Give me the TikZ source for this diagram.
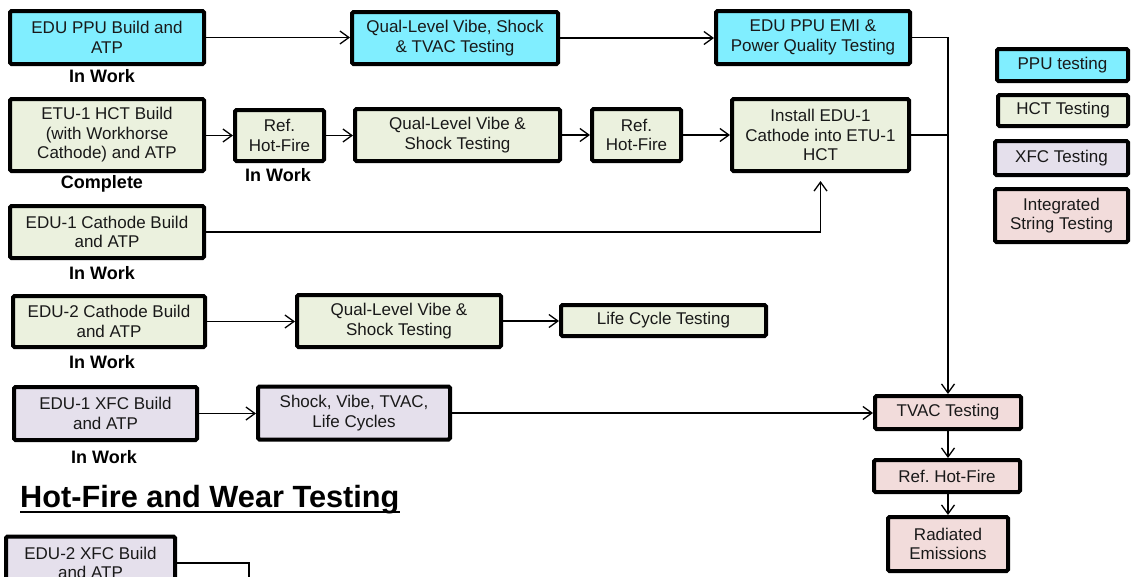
\documentclass[tikz,border=0pt]{standalone}
\usepackage{fontspec}
\setmainfont{Liberation Sans}
\usetikzlibrary{arrows.meta}
\definecolor{ppuc}{RGB}{128,238,255}
\definecolor{hctc}{RGB}{235,241,222}
\definecolor{xfcc}{RGB}{229,224,236}
\definecolor{istc}{RGB}{242,220,219}
\definecolor{txt}{RGB}{25,25,25}
\frenchspacing
\begin{document}
\begin{tikzpicture}[x=1pt,y=-1pt,
  box/.style={draw=black, line width=4pt, rounded corners=1.5pt, inner sep=0pt, align=center,
    font=\fontsize{17}{19.5}\selectfont, text=txt},
  ppu/.style={box, fill=ppuc},
  hct/.style={box, fill=hctc},
  xfc/.style={box, fill=xfcc},
  ist/.style={box, fill=istc},
  status/.style={font=\bfseries\fontsize{18}{21}\selectfont, inner sep=0pt},
  conn/.style={line width=1.3pt, -{Straight Barb[length=9pt,width=13pt,line width=1.3pt]}},
  plain/.style={line width=1.3pt}
]
\useasboundingbox (0,0) rectangle (1131,576);

% PPU row
\node[ppu, minimum width=194pt, minimum height=53pt] (ppu1) at (107,37.5) {EDU PPU Build and\\ATP};
\node[ppu, minimum width=206pt, minimum height=52pt] (ppu2) at (455,38) {Qual-Level Vibe, Shock\\\& TVAC Testing};
\node[ppu, minimum width=194pt, minimum height=53pt] (ppu3) at (813,37.5) {EDU PPU EMI \&\\Power Quality Testing};
\node[status] (s1) at (102,76) {In Work};

% HCT row
\node[hct, minimum width=194pt, minimum height=72pt] (etu) at (107,135) {ETU-1 HCT Build\\(with Workhorse\\Cathode) and ATP};
\node[hct, minimum width=89pt, minimum height=51pt] (rhf1) at (279.5,135.5) {Ref.\\Hot-Fire};
\node[hct, minimum width=205pt, minimum height=52pt] (qual1) at (457.5,135) {Qual-Level Vibe \&\\Shock Testing};
\node[hct, minimum width=89pt, minimum height=52pt] (rhf2) at (636.5,135) {Ref.\\Hot-Fire};
\node[hct, minimum width=177pt, minimum height=72pt] (install) at (820.5,135) {Install EDU-1\\Cathode into ETU-1\\HCT};
\node[status] (s2) at (102,184) {Complete};
\node[status] (s3) at (278,175) {In Work};

\node[hct, minimum width=194pt, minimum height=52pt] (edu1c) at (107,232) {EDU-1 Cathode Build\\and ATP};
\node[status] (s4) at (102,273) {In Work};

\node[hct, minimum width=192pt, minimum height=51pt] (edu2c) at (109,321.5) {EDU-2 Cathode Build\\and ATP};
\node[hct, minimum width=204pt, minimum height=52pt] (qual2) at (399,321) {Qual-Level Vibe \&\\Shock Testing};
\node[hct, minimum width=205pt, minimum height=31pt] (life) at (663.5,320.5) {Life Cycle Testing};
\node[status] (s5) at (102,362) {In Work};

% XFC rows
\node[xfc, minimum width=183pt, minimum height=53pt] (xfc1) at (105.5,413.5) {EDU-1 XFC Build\\and ATP};
\node[xfc, minimum width=192pt, minimum height=53pt] (shock) at (354,413) {Shock, Vibe, TVAC,\\Life Cycles};
\node[status] (s6) at (104,457) {In Work};

\node[xfc, minimum width=169pt, minimum height=53pt] (xfc2) at (90.5,563) {EDU-2 XFC Build\\and ATP};
\coordinate (xfcend) at (249,580);

% Integrated string
\node[ist, minimum width=146pt, minimum height=33pt] (tvac) at (948,412.5) {TVAC Testing};
\node[ist, minimum width=146pt, minimum height=32pt] (rhf3) at (947,476) {Ref. Hot-Fire};
\node[ist, minimum width=120pt, minimum height=54pt] (rad) at (948,544) {Radiated\\Emissions};

% Title
\node[font=\bfseries\fontsize{30.7}{36}\selectfont, inner sep=0pt, anchor=base west] (title) at (20,507) {Hot-Fire and Wear Testing};
\draw[line width=2.6pt] ([yshift=-5pt]title.base west) -- ([yshift=-5pt]title.base east);

% Legend
\node[ppu, minimum width=131pt, minimum height=32pt] (l1) at (1062.5,65) {PPU testing};
\node[hct, minimum width=130pt, minimum height=31pt] (l2) at (1063,110.5) {HCT Testing};
\node[xfc, minimum width=133pt, minimum height=34pt] (l3) at (1061.5,158) {XFC Testing};
\node[ist, minimum width=133pt, minimum height=53pt] (l4) at (1061.5,215.5) {Integrated\\String Testing};

% Connectors
\draw[conn] (ppu1.east) -- (ppu1.east -| ppu2.west);
\draw[conn] (ppu2.east) -- (ppu2.east -| ppu3.west);
\draw[conn] (ppu3.east) -| (tvac.north);
\draw[plain] (install.east) -- (install.east -| tvac.north);

\draw[conn] (etu.east |- rhf1.west) -- (rhf1.west);
\draw[conn] (rhf1.east) -- (rhf1.east -| qual1.west);
\draw[conn] (qual1.east) -- (rhf2.west);
\draw[conn] (rhf2.east) -- (install.west);
\draw[conn, shorten >=8pt] (edu1c.east) -| (install.south);

\draw[conn] (edu2c.east) -- (edu2c.east -| qual2.west);
\draw[conn] (qual2.east) -- (qual2.east -| life.west);

\draw[conn] (xfc1.east) -- (xfc1.east -| shock.west);
\draw[conn] (shock.east) -- (shock.east -| tvac.west);
\draw[plain] (xfc2.east) -| (xfcend);

\draw[conn] (tvac.south) -- (tvac.south |- rhf3.north);
\draw[conn] (rhf3.south -| rad.north) -- (rad.north);
\end{tikzpicture}
\end{document}
